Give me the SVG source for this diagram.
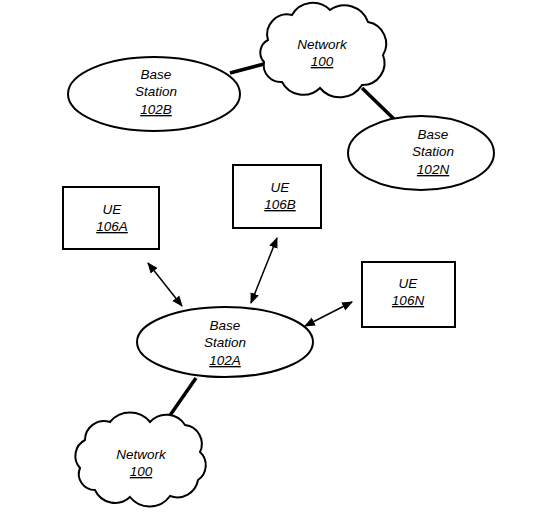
<svg xmlns="http://www.w3.org/2000/svg" width="542" height="532" viewBox="0 0 542 532">
<style>
text{font-family:"Liberation Sans",Arial,sans-serif;font-style:italic;font-size:13.5px;fill:#000;text-anchor:middle}
.u{text-decoration:underline}
.shape{fill:#fff;stroke:#000;stroke-width:2}
.link{stroke:#000;stroke-width:3.5;fill:none}
.arr{stroke:#000;stroke-width:1.5;fill:none;marker-start:url(#ah);marker-end:url(#ah)}
</style>
<defs>
<marker id="ah" viewBox="0 0 10 10" refX="9" refY="5" markerWidth="11" markerHeight="11" orient="auto-start-reverse" markerUnits="userSpaceOnUse">
<path d="M0,1 L10,5 L0,9 z" fill="#000"/>
</marker>
</defs>
<rect width="542" height="532" fill="#fff"/>
<g id="connectors">
<line class="link" x1="230" y1="73" x2="264" y2="64"/>
<line class="link" x1="362" y1="88" x2="395" y2="120"/>
<line class="link" x1="196" y1="378" x2="164" y2="424"/>
<line class="arr" x1="148" y1="263" x2="182" y2="306"/>
<line class="arr" x1="277" y1="238" x2="251" y2="303"/>
<line class="arr" x1="352" y1="302" x2="305" y2="326"/>
</g>
<g id="network-top">
<path class="shape" d="M268,40 A20,20 0 0 1 292,15 A24,24 0 0 1 330,10 A25,25 0 0 1 368,22 A22,22 0 0 1 383,55 A22,22 0 0 1 362,85 A26,26 0 0 1 320,88 A24,24 0 0 1 282,82 A17,17 0 0 1 264,62 A14,14 0 0 1 268,40 Z"/>
<text x="322" y="49">Network</text>
<text x="322" y="66" class="u">100</text>
</g>
<g id="bs-102B">
<ellipse class="shape" cx="154" cy="94" rx="86" ry="37"/>
<text x="156" y="79">Base</text>
<text x="156" y="96">Station</text>
<text x="156" y="114" class="u">102B</text>
</g>
<g id="bs-102N">
<ellipse class="shape" cx="421" cy="153" rx="73" ry="37"/>
<text x="433" y="139">Base</text>
<text x="433" y="156">Station</text>
<text x="433" y="174" class="u">102N</text>
</g>
<g id="ue-106A">
<rect class="shape" x="63" y="187" width="96" height="62"/>
<text x="112" y="214">UE</text>
<text x="112" y="231" class="u">106A</text>
</g>
<g id="ue-106B">
<rect class="shape" x="233" y="165" width="88" height="63"/>
<text x="280" y="192">UE</text>
<text x="280" y="209" class="u">106B</text>
</g>
<g id="ue-106N">
<rect class="shape" x="362" y="262" width="93" height="65"/>
<text x="408" y="288">UE</text>
<text x="408" y="305" class="u">106N</text>
</g>
<g id="bs-102A">
<ellipse class="shape" cx="225" cy="342" rx="88" ry="35"/>
<text x="225" y="330">Base</text>
<text x="225" y="347">Station</text>
<text x="225" y="365" class="u">102A</text>
</g>
<g id="network-bottom">
<path class="shape" d="M85,440 A19,19 0 0 1 110,422 A26,26 0 0 1 150,422 A22,22 0 0 1 185,425 A19,19 0 0 1 200,452 A18,18 0 0 1 198,480 A21,21 0 0 1 170,496 A25,25 0 0 1 130,497 A22,22 0 0 1 95,490 A16,16 0 0 1 80,468 A18,18 0 0 1 85,440 Z"/>
<text x="141" y="459">Network</text>
<text x="141" y="476" class="u">100</text>
</g>
</svg>
